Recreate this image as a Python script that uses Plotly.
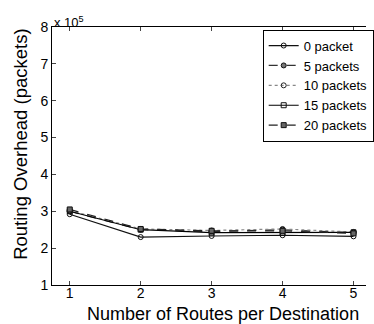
import plotly.graph_objects as go

x_routes = [1, 2, 3, 4, 5]
names = ["0 packet", "5 packets", "10 packets", "15 packets", "20 packets"]
s0 = [2.92, 2.30, 2.33, 2.35, 2.32]
s5 = [3.00, 2.50, 2.45, 2.50, 2.42]
s10 = [3.02, 2.52, 2.48, 2.52, 2.44]
s15 = [3.00, 2.50, 2.42, 2.42, 2.43]
s20 = [3.05, 2.52, 2.47, 2.47, 2.40]
series = [s0, s5, s10, s15, s20]
y_ticks = [1, 2, 3, 4, 5, 6, 7, 8]

styles = [
    dict(dash="solid", color="#111111", symbol="circle-open", mcolor="#111111"),
    dict(dash="dash", color="#333333", symbol="circle", mcolor="#777777"),
    dict(dash="dot", color="#888888", symbol="circle-open", mcolor="#222222"),
    dict(dash="solid", color="#000000", symbol="square-open", mcolor="#111111"),
    dict(dash="dash", color="#222222", symbol="square", mcolor="#666666"),
]

fig = go.Figure()
for name, vals, st in zip(names, series, styles):
    fig.add_trace(go.Scatter(
        x=x_routes, y=[v * 1e5 for v in vals], name=name, mode="lines+markers",
        line=dict(color=st["color"], width=1.2, dash=st["dash"]),
        marker=dict(symbol=st["symbol"], size=5, color=st["mcolor"],
                    line=dict(color="#111111", width=1)),
    ))

font_family = "Liberation Sans, Arial, sans-serif"
fig.update_layout(
    width=374, height=324,
    margin=dict(l=52, r=0, t=27, b=39),
    paper_bgcolor="white", plot_bgcolor="white",
    font=dict(family=font_family, size=14, color="black"),
    showlegend=True,
    legend=dict(x=0.671, xanchor="left", y=0.99, yanchor="top",
                bgcolor="white", bordercolor="black", borderwidth=1,
                font=dict(size=13), tracegroupgap=0, itemwidth=30),
    xaxis=dict(range=[0.75, 5.176], tickvals=x_routes, ticks="inside", ticklen=4,
               showline=True, linecolor="black", linewidth=1, mirror="ticks",
               showgrid=False, zeroline=False, automargin=False,
               tickfont=dict(size=14), ticklabelstandoff=-5),
    yaxis=dict(range=[1e5, 8e5], tickvals=[v * 1e5 for v in y_ticks],
               ticktext=[str(v) for v in y_ticks], ticks="inside", ticklen=4,
               showline=True, linecolor="black", linewidth=1,
               showgrid=False, zeroline=False, automargin=False,
               tickfont=dict(size=14)),
    annotations=[
        dict(xref="paper", yref="paper", x=0.0, y=1.0, xanchor="left", yanchor="bottom",
             text="x 10<sup>5</sup>", showarrow=False, font=dict(size=13), yshift=-5),
        dict(xref="paper", yref="paper", x=(227 - 52) / 322, y=-(313.5 - 285) / 258,
             xanchor="center", yanchor="middle", text="Number of Routes per Destination",
             showarrow=False, font=dict(size=18)),
        dict(xref="paper", yref="paper", x=-(52 - 19) / 322, y=(285 - 144) / 258,
             xanchor="center", yanchor="middle", text="Routing Overhead (packets)",
             textangle=-90, showarrow=False, font=dict(size=18.5)),
    ],
)
fig.write_html("out.html", config={"displayModeBar": False},
               post_script="document.body.style.margin='0px';")
